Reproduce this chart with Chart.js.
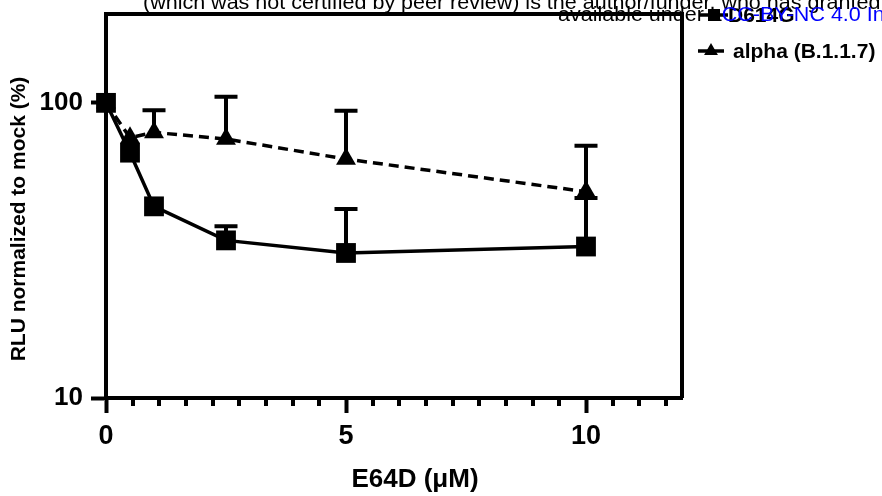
<!DOCTYPE html>
<html>
<head>
<meta charset="utf-8">
<script src="https://cdn.jsdelivr.net/npm/chart.js@4"></script>
<style>
  html, body { margin: 0; padding: 0; background: #fff; overflow: hidden; }
  #wrap { position: relative; width: 882px; height: 496px; overflow: hidden; }
  .stamp {
    position: absolute;
    font-family: "Liberation Sans", Arial, sans-serif;
    font-size: 20px;
    line-height: 20px;
    white-space: nowrap;
    color: #000;
    transform: scaleX(1.075);
    transform-origin: 0 0;
  }
  .stamp span { color: #0000ff; }
</style>
</head>
<body>
<div id="wrap">
  <canvas id="chart" width="882" height="496"></canvas>
  <div class="stamp" style="left:143px; top:-8px;">(which was not certified by peer review) is the author/funder, who has granted bioRxiv a license to display the preprint in perpetuity. It is made</div>
  <div class="stamp" style="left:558px; top:4px;">available under a<span>CC-BY-NC 4.0 International license.</span></div>
</div>
<script>
const doses = [0, 0.5, 1, 2.5, 5, 10];

const d614gMean = [100, 67.8, 44.6, 34.2, 31.0, 32.6];
const d614gErr = [0, 0, 0, 4.0, 12.7, 15.0];

const alphaMean = [100, 76.2, 79.4, 75.4, 64.5, 50.0];
const alphaErr = [0, 0, 15.0, 29.4, 29.5, 21.6];

const xMajorTicks = [0, 5, 10];
const yTicks = [10, 100];

const seriesNames = ["D614G", "alpha (B.1.1.7)"];
const errors = [d614gErr, alphaErr];

const FONT = "'Liberation Sans', Arial, sans-serif";

// one-sided (upper) error bars with caps
const errorBars = {
  id: "errorBars",
  beforeDatasetsDraw(chart) {
    const { ctx, scales: { x, y } } = chart;
    ctx.save();
    ctx.strokeStyle = "#000";
    ctx.lineWidth = 4;
    chart.data.datasets.forEach((ds, d) => {
      ds.data.forEach((pt, i) => {
        const err = errors[d][i];
        if (!err) return;
        const px = x.getPixelForValue(pt.x);
        const y0 = y.getPixelForValue(pt.y);
        const y1 = y.getPixelForValue(pt.y + err);
        ctx.beginPath();
        ctx.moveTo(px, y0);
        ctx.lineTo(px, y1);
        ctx.moveTo(px - 11.5, y1);
        ctx.lineTo(px + 11.5, y1);
        ctx.stroke();
      });
    });
    ctx.restore();
  },
};

// box frame, minor x ticks, axis titles, legend
const decorations = {
  id: "decorations",
  afterDraw(chart) {
    const { ctx, chartArea: a, scales: { x } } = chart;
    ctx.save();
    ctx.strokeStyle = "#000";
    ctx.lineWidth = 4;

    ctx.beginPath();
    ctx.moveTo(a.left, a.top);
    ctx.lineTo(a.right, a.top);
    ctx.lineTo(a.right, a.bottom);
    ctx.stroke();

    // minor ticks every 5/9 unit
    ctx.beginPath();
    for (let k = 1; k * 5 / 9 < x.max; k++) {
      if (k % 9 === 0) continue;
      const px = Math.round(x.getPixelForValue(k * 5 / 9));
      ctx.moveTo(px, a.bottom);
      ctx.lineTo(px, a.bottom + 8);
    }
    ctx.stroke();

    ctx.fillStyle = "#000";
    ctx.font = "bold 26px " + FONT;
    ctx.textAlign = "center";
    ctx.textBaseline = "alphabetic";
    ctx.fillText("E64D (μM)", (a.left + a.right) / 2 + 21, 487);

    ctx.save();
    ctx.translate(a.left - 87, (a.top + a.bottom) / 2 + 13);
    ctx.rotate(-Math.PI / 2);
    ctx.font = "bold 21px " + FONT;
    ctx.textBaseline = "middle";
    ctx.fillText("RLU normalized to mock (%)", 0, 0);
    ctx.restore();

    // legend: line + marker + label
    const rows = [
      { y: 15, x0: a.right + 18, mx: a.right + 32, tx: a.right + 46, r: 8.5 },
      { y: 51, x0: a.right + 16, mx: a.right + 29, tx: a.right + 51, r: 8 },
    ];
    chart.data.datasets.forEach((ds, d) => {
      const row = rows[d];
      ctx.lineWidth = 3.5;
      ctx.setLineDash(ds.borderDash || []);
      ctx.beginPath();
      ctx.moveTo(row.x0, row.y);
      ctx.lineTo(row.x0 + 28, row.y);
      ctx.stroke();
      ctx.setLineDash([]);
      Chart.helpers.drawPoint(ctx, {
        pointStyle: ds.pointStyle,
        radius: row.r,
        borderWidth: 0,
      }, row.mx, row.y);
      ctx.font = "bold 21px " + FONT;
      ctx.textAlign = "left";
      ctx.textBaseline = "middle";
      ctx.fillText(seriesNames[d], row.tx, row.y + 1);
    });
    ctx.restore();
  },
};

const axisGrid = {
  drawOnChartArea: false,
  drawTicks: true,
  tickLength: 15,
  tickWidth: 4,
  tickColor: "#000",
};

new Chart(document.getElementById("chart"), {
  type: "line",
  data: {
    datasets: [
      {
        label: seriesNames[0],
        data: doses.map((v, i) => ({ x: v, y: d614gMean[i] })),
        borderColor: "#000",
        backgroundColor: "#000",
        borderWidth: 3.5,
        pointStyle: "rect",
        pointRadius: 14,
        pointBorderWidth: 0,
        tension: 0,
        clip: false,
      },
      {
        label: seriesNames[1],
        data: doses.map((v, i) => ({ x: v, y: alphaMean[i] })),
        borderColor: "#000",
        backgroundColor: "#000",
        borderWidth: 3.5,
        borderDash: [10, 6],
        pointStyle: "triangle",
        pointRadius: 11.5,
        pointBorderWidth: 0,
        tension: 0,
        clip: false,
      },
    ],
  },
  options: {
    responsive: false,
    animation: false,
    devicePixelRatio: 1,
    layout: { padding: { top: 13, right: 200, left: 0, bottom: 0 } },
    plugins: {
      legend: { display: false },
      tooltip: { enabled: false },
    },
    scales: {
      x: {
        type: "linear",
        min: 0,
        max: 12,
        afterBuildTicks: (s) => { s.ticks = xMajorTicks.map((v) => ({ value: v })); },
        afterFit: (s) => {
          s.height = 98;
          s.paddingLeft = 0;
          s.paddingRight = 0;
        },
        ticks: {
          color: "#000",
          font: { family: FONT, size: 27, weight: "bold" },
          padding: 7,
          maxRotation: 0,
          autoSkip: false,
        },
        grid: axisGrid,
        border: { color: "#000", width: 4 },
      },
      y: {
        type: "logarithmic",
        min: 10,
        max: 200,
        afterBuildTicks: (s) => { s.ticks = yTicks.map((v) => ({ value: v })); },
        afterFit: (s) => {
          s.width = 106;
          s.paddingTop = 0;
          s.paddingBottom = 0;
        },
        ticks: {
          color: "#000",
          font: { family: FONT, size: 26, weight: "bold" },
          padding: 8,
          callback: (v) => String(v),
        },
        grid: axisGrid,
        border: { color: "#000", width: 4 },
      },
    },
  },
  plugins: [errorBars, decorations],
});
</script>
</body>
</html>
